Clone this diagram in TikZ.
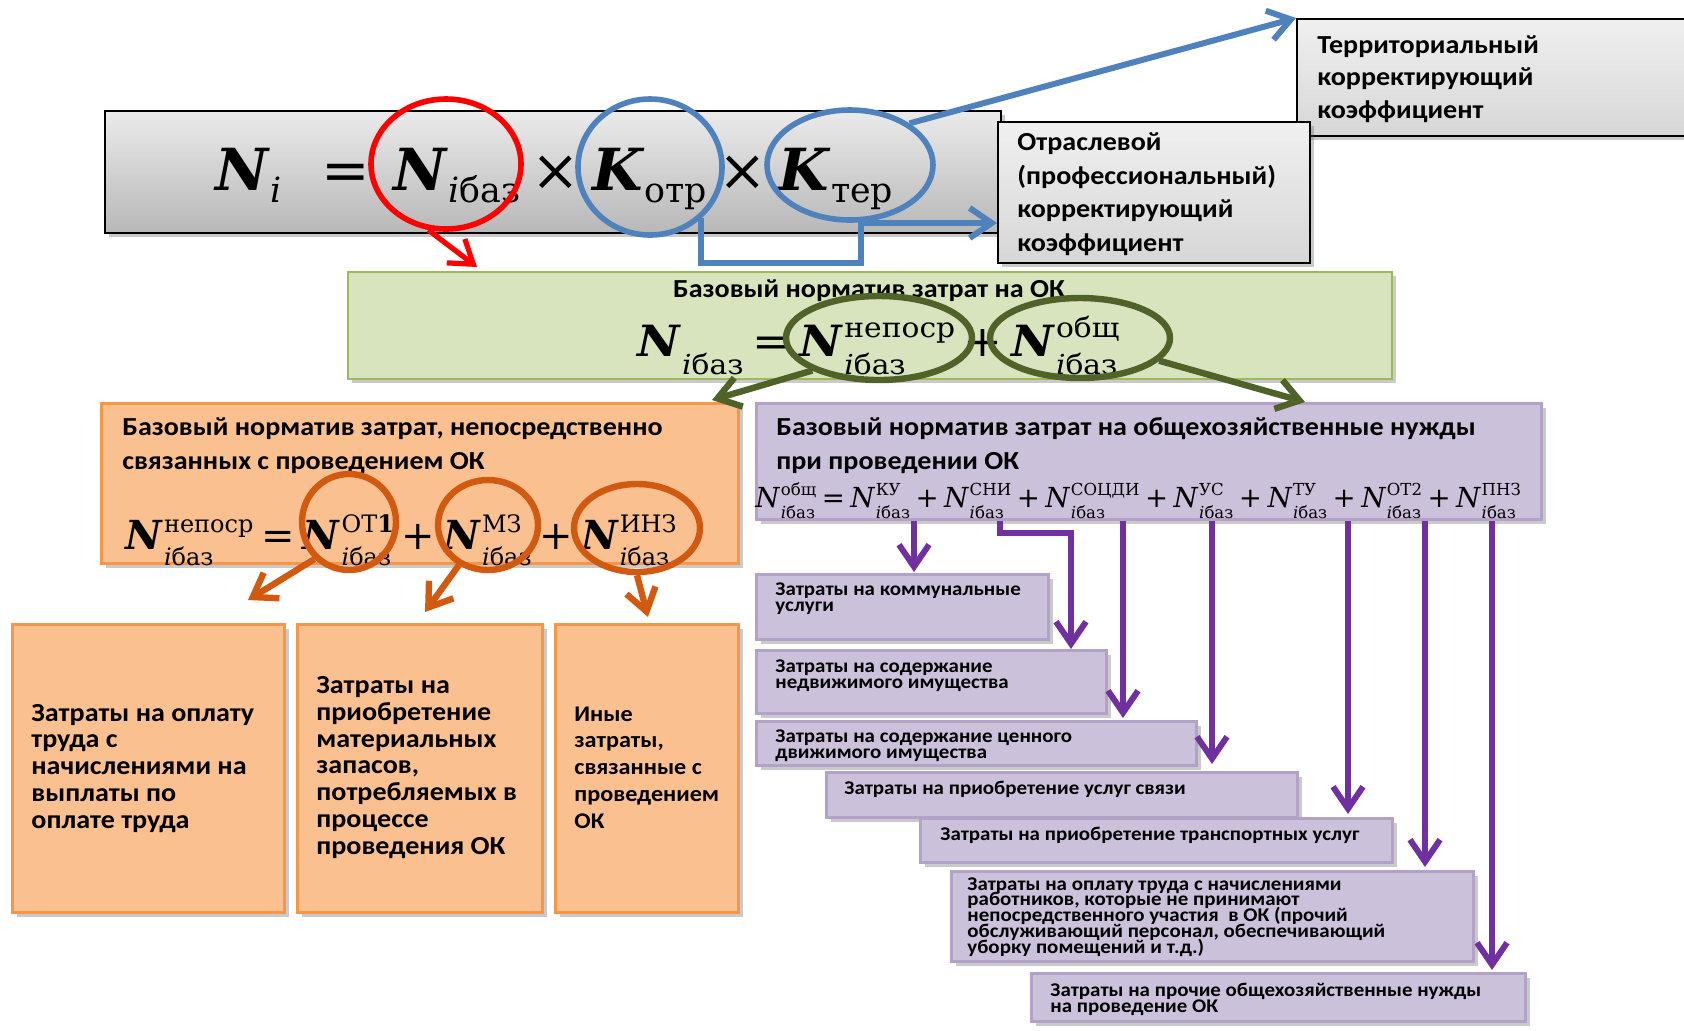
\documentclass[tikz,border=0pt]{standalone}
\usepackage{fontspec}
\setmainfont{Carlito}[FakeStretch=1.08]
\newfontfamily\fm{DejaVu Serif}
\newfontfamily\fmw{DejaVu Serif}[FakeStretch=1.08]
\usetikzlibrary{arrows.meta,shapes.geometric,shadows,calc}
\definecolor{cred}{HTML}{FF0000}
\definecolor{cblue}{HTML}{4F81BD}
\definecolor{cgreen}{HTML}{4F6228}
\definecolor{corange}{HTML}{D25A10}
\definecolor{cpurple}{HTML}{7030A0}
\definecolor{gfill}{HTML}{D7E4BD}
\definecolor{gborder}{HTML}{9BBB59}
\definecolor{ofill}{HTML}{FAC090}
\definecolor{oborder}{HTML}{F79646}
\definecolor{pfill}{HTML}{CCC1DA}
\definecolor{pborder}{HTML}{B3A2C7}
\def\ssf{0.6}
\makeatletter
\newcommand\SSz{\fontsize{\fpeval{\ssf*\f@size}}{\fpeval{\ssf*\f@size}}\selectfont}
\makeatother
\newcommand\tightls{\lineskiplimit-20pt\relax}
\newcommand\bigssf{\def\ssf{0.64}}
\newbox\nsA \newbox\nsB \newdimen\nsW
\newcommand\BN{\textbf{\textit{N}}}
\newcommand\BK{\textbf{\textit{K}}}
\newcommand\IN{\textit{N}}
\newcommand\ib{\textit{i}баз}
\newcommand\SB[1]{\raisebox{-0.22em}{\SSz #1}}
\newcommand\NS[3]{#1\kern0.02em\setbox\nsA\hbox{\SSz #2}\setbox\nsB\hbox{\SSz #3}\nsW=\wd\nsA \ifdim\wd\nsB>\nsW \nsW=\wd\nsB \fi\hbox to\nsW{\rlap{\lower0.42em\copy\nsA}\rlap{\raise0.42em\copy\nsB}\hfil}}
\newcommand\op[1]{\hspace{0.2em}#1\hspace{0.2em}}
\tikzset{
 shd/.style={drop shadow={shadow xshift=2pt,shadow yshift=-2pt,opacity=.35,fill=black!60}},
 bx/.style={rectangle,anchor=north west,inner sep=0pt,shd},
 graybox/.style={bx,draw=black,line width=1pt,top color=black!6,bottom color=black!16},
 grbox/.style={bx,draw=gborder,line width=1pt,fill=gfill},
 orbox/.style={bx,draw=oborder,line width=1.5pt,fill=ofill},
 pubox/.style={bx,draw=pborder,line width=1.5pt,fill=pfill},
 ttl/.style={anchor=base west,align=left,inner sep=0pt,font={\fontsize{13}{16.5}\selectfont\bfseries\tightls}},
 otx/.style={anchor=base west,align=left,inner sep=0pt,font={\fontsize{13}{13.35}\selectfont\bfseries\tightls}},
 ptx/.style={anchor=base west,align=left,inner sep=0pt,font={\fontsize{9.7}{7.85}\selectfont\bfseries\tightls}},
 ell/.style={ellipse,inner sep=0pt,line width=2.8pt},
 arr/.style={line width=3pt,-{Straight Barb[length=11pt,width=15pt]}},
}
\begin{document}
\begin{tikzpicture}[x=0.5pt,y=-0.5pt]
\useasboundingbox (0,0) rectangle (1684,1030);
% boxes
\node[graybox,minimum width=448pt,minimum height=61pt,top color=black!8,bottom color=black!28] (top) at (104,110) {};
\node[graybox,minimum width=200pt,minimum height=58.5pt] (ter) at (1296,18) {};
\node[graybox,minimum width=156pt,minimum height=70.5pt] (otr) at (997,121) {};
\node[grbox,minimum width=522pt,minimum height=53.5pt] (gbox) at (347,271) {};
\node[orbox,minimum width=318.5pt,minimum height=80pt] (obig) at (100,402) {};
\node[pubox,minimum width=392.5pt,minimum height=58pt] (pbig) at (755,402) {};
\node[orbox,minimum width=136pt,minimum height=144pt] (o1) at (11,623) {};
\node[orbox,minimum width=122.5pt,minimum height=144pt] (o2) at (296,623) {};
\node[orbox,minimum width=91.5pt,minimum height=144pt] (o3) at (554,623) {};
\node[pubox,minimum width=146pt,minimum height=32.5pt] (ku) at (755,573) {};
\node[pubox,minimum width=175pt,minimum height=31.5pt] (sni) at (755,649) {};
\node[pubox,minimum width=220pt,minimum height=22pt] (soc) at (755,720) {};
\node[pubox,minimum width=235.5pt,minimum height=22.5pt] (us) at (825,771) {};
\node[pubox,minimum width=236pt,minimum height=22pt] (tu) at (919,817) {};
\node[pubox,minimum width=261pt,minimum height=45pt] (ot) at (950,870) {};
\node[pubox,minimum width=247pt,minimum height=24pt] (pn) at (1030,972) {};
% texts (anchor base = baseline of the last line)
\node[ttl,font={\fontsize{13}{16.25}\selectfont\bfseries\tightls}] (tTer) at (1317,118) {Территориальный\\корректирующий\\коэффициент};
\node[ttl,font={\fontsize{13}{16.75}\selectfont\bfseries\tightls}] (tOtr) at (1017,251) {Отраслевой\\(профессиональный)\\корректирующий\\коэффициент};
\node[ttl,anchor=base] (tG) at (869,297) {Базовый норматив затрат на ОК};
\node[ttl,font={\fontsize{13}{17}\selectfont\bfseries\tightls}] (tO) at (122,469) {Базовый норматив затрат, непосредственно\\связанных с проведением ОК};
\node[ttl,font={\fontsize{13}{17}\selectfont\bfseries\tightls}] (tP) at (776,469) {Базовый норматив затрат на общехозяйственные нужды\\при проведении ОК};
\node[otx] (t1) at (31,828) {Затраты на оплату\\труда с\\начислениями на\\выплаты по\\оплате труда};
\node[otx] (t2) at (316,854) {Затраты на\\приобретение\\материальных\\запасов,\\потребляемых в\\процессе\\проведения ОК};
\node[otx,font={\fontsize{11.2}{13.35}\selectfont\bfseries\tightls}] (t3) at (574,828) {Иные\\затраты,\\связанные с\\проведением\\ОК};
\node[ptx] (tku) at (775,611) {Затраты на коммунальные\\услуги};
\node[ptx] (tsni) at (775,688) {Затраты на содержание\\недвижимого имущества};
\node[ptx] (tsoc) at (775,758) {Затраты на содержание ценного\\движимого имущества};
\node[ptx] (tus) at (844,794) {Затраты на приобретение услуг связи};
\node[ptx] (ttu) at (940,840) {Затраты на приобретение транспортных услуг};
\node[ptx] (tot) at (967,953) {Затраты на оплату труда с начислениями\\работников, которые не принимают\\непосредственного участия\ \ в ОК (прочий\\обслуживающий персонал, обеспечивающий\\уборку помещений и т.д.)};
\node[ptx] (tpn) at (1050,1012) {Затраты на прочие общехозяйственные нужды\\на проведение ОК};
% formulas
\node[anchor=base west,inner sep=0pt,font={\fm\fontsize{29}{30}\selectfont}] (f0) at (215,190)
 {\BN\SB{\textit{i}}\hspace{0.7em}=\op{}\BN\SB{\ib}\op{×}\BK\SB{отр}\op{×}\BK\SB{тер}};
\node[anchor=base west,inner sep=0pt,font={\fmw\fontsize{21.5}{22}\selectfont\bigssf}] (fG) at (637,356)
 {\NS{\BN}{\ib}{}\op{=}\NS{\BN}{\ib}{непоср}\op{+}\NS{\BN}{\ib}{общ}};
\node[anchor=base west,inner sep=0pt,font={\fm\fontsize{20}{21}\selectfont}] (fO) at (125,549)
 {\NS{\BN}{\ib}{непоср}\op{=}\NS{\BN}{\ib}{ОТ\textbf{1}}\op{+}\NS{\BN}{\ib}{МЗ}\op{+}\NS{\BN}{\ib}{ИНЗ}};
\node[anchor=base west,inner sep=0pt,font={\fm\fontsize{13.8}{14}\selectfont}] (fP) at (755,507)
 {\NS{\IN}{\ib}{общ}\op{=}\NS{\IN}{\ib}{КУ}\op{+}\NS{\IN}{\ib}{СНИ}\op{+}\NS{\IN}{\ib}{СОЦДИ}\op{+}\NS{\IN}{\ib}{УС}\op{+}\NS{\IN}{\ib}{ТУ}\op{+}\NS{\IN}{\ib}{ОТ2}\op{+}\NS{\IN}{\ib}{ПНЗ}};
% ellipses
\node[ell,draw=cred,minimum width=75pt,minimum height=65pt] (eR) at (446,164) {};
\node[ell,draw=cblue,minimum width=72pt,minimum height=68pt] (eO) at (650,167) {};
\node[ell,draw=cblue,minimum width=83pt,minimum height=55pt] (eT) at (850,165) {};
\node[ell,draw=cgreen,line width=3.2pt,minimum width=93pt,minimum height=42pt] (eN) at (879,338) {};
\node[ell,draw=cgreen,line width=3.2pt,minimum width=90pt,minimum height=40pt] (eB) at (1080,338) {};
\node[ell,draw=corange,line width=3.2pt,minimum width=47pt,minimum height=48pt] (e1) at (349,522) {};
\node[ell,draw=corange,line width=3.2pt,minimum width=50pt,minimum height=45pt] (e2) at (488,525) {};
\node[ell,draw=corange,line width=3.2pt,minimum width=63pt,minimum height=44pt] (e3) at (637,528) {};
% coordinates
\coordinate (tR) at (477,267);
\coordinate (kO) at (861,223);
\coordinate (tGL) at (712,400);
\coordinate (tGR) at (1305,402);
\coordinate (tO1) at (248,600);
\coordinate (tO2) at (425,612);
\coordinate (tO3) at (648,617);
\coordinate (tKU) at (914,572);
\coordinate (sS) at (1000,533);
\coordinate (kS) at (1071,533);
\coordinate (tSOC) at (1123,718);
\coordinate (tUS) at (1212,764);
\coordinate (tTU) at (1348,814);
\coordinate (tOT) at (1425,867);
\coordinate (tPN) at (1492,970);
% arrows
\draw[arr,draw=cred,line width=2.6pt] (eR.255) -- (tR);
\draw[arr,draw=cblue] (eT.35) -- (ter.north west);
\draw[arr,draw=cblue] (eO.315) -- ++(0,45) -| (kO) -- (kO -| otr.west);
\draw[arr,draw=cgreen,line width=3.2pt] (eN.206) -- (tGL);
\draw[arr,draw=cgreen,line width=3.2pt] (eB.344) -- (tGR);
\draw[arr,draw=corange,line width=3.2pt] (e1.227) -- (tO1);
\draw[arr,draw=corange,line width=3.2pt] (e2.234) -- (tO2);
\draw[arr,draw=corange,line width=3.2pt] (e3.270) -- (tO3);
\draw[arr,draw=cpurple] (tKU |- pbig.south) -- (tKU);
\draw[arr,draw=cpurple] (sS |- pbig.south) -- (sS) -- (kS) -- (kS |- sni.north);
\draw[arr,draw=cpurple] (tSOC |- pbig.south) -- (tSOC);
\draw[arr,draw=cpurple] (tUS |- pbig.south) -- (tUS);
\draw[arr,draw=cpurple] (tTU |- pbig.south) -- (tTU);
\draw[arr,draw=cpurple] (tOT |- pbig.south) -- (tOT);
\draw[arr,draw=cpurple] (tPN |- pbig.south) -- (tPN);
\end{tikzpicture}
\end{document}
